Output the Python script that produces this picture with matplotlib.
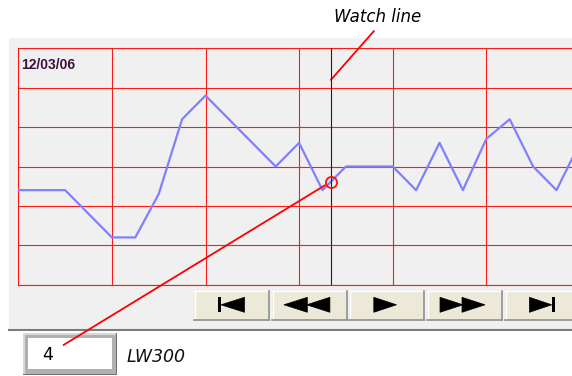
import numpy as np
import matplotlib
matplotlib.use("Agg")
import matplotlib.pyplot as plt
from matplotlib.patches import Rectangle, Polygon

# data
steps = list(range(25))
values = [24, 24, 24, 18, 12, 12, 23, 42, 48, 42, 36, 30, 36, 24, 30, 30, 30, 24, 36, 24, 37, 42, 30, 24, 36]
date_label = "12/03/06"
watch_pos = 13.36
watch_index = "4"
series_name = "LW300"
buttons = ["first", "rew", "play", "ff", "last"]

W, H = 572, 376
fig = plt.figure(figsize=(W / 100, H / 100), dpi=100)
fig.patch.set_facecolor("white")

# overlay in screen pixels for the panel, buttons and text box
ov = fig.add_axes([0, 0, 1, 1], zorder=0)
ov.set_xlim(0, W)
ov.set_ylim(H, 0)
ov.axis("off")

ov.add_patch(Rectangle((9, 38), W - 9, 291, facecolor="#f0f0f0", edgecolor="none"))
ov.plot([9, W], [329.8, 329.8], color="#7c7c7c", lw=1.5)

# chart area, grid every 4 steps / 10 units
ax = fig.add_axes([18.3 / W, (H - 284.7) / H, 561.6 / W, 236.4 / H], zorder=1)
ax.set_facecolor("#f0f0f0")
ax.set_xlim(0, 24)
ax.set_ylim(0, 60)
ax.set_xticks(np.arange(0, 25, 4))
ax.set_yticks(np.arange(0, 61, 10))
ax.tick_params(length=0, labelbottom=False, labelleft=False)
ax.grid(True, color="#ff1a1a", lw=0.8)
for s in ax.spines.values():
    s.set_color("#ff1a1a")
    s.set_linewidth(0.8)

ax.plot(steps, values, color="#8080ff", lw=1.6, zorder=3)
ax.axvline(watch_pos, color="#202020", lw=0.8, zorder=4)

watch_val = np.interp(watch_pos, steps, values)
ax.plot([watch_pos], [watch_val], marker="o", ms=8, mfc="none", mec="#ff1010", mew=1.3, zorder=5)

ax.text(0.005, 0.96, date_label, transform=ax.transAxes, fontsize=10, fontweight="bold",
        family="Liberation Sans", color="#3c1040", va="top", ha="left")

# callout lines
ax.annotate("", xy=(watch_pos, 52), xytext=(374, H - 31), textcoords="figure pixels",
            arrowprops=dict(arrowstyle="-", color="#ff0000", lw=1.3, shrinkA=0, shrinkB=0),
            annotation_clip=False)
ax.annotate("", xy=(watch_pos, watch_val), xytext=(63.5, H - 345), textcoords="figure pixels",
            arrowprops=dict(arrowstyle="-", color="#ff0000", lw=1.3, shrinkA=0, shrinkB=5),
            annotation_clip=False)
ov.text(334, 17, "Watch line", fontsize=12, style="italic", color="#000000", va="center", ha="left")

# media buttons
left_edges = [194, 272, 349, 427.3, 505.3]
btn_w = 75
top, bot = 290.7, 320
cy, hh = 304.8, 7.5

def tri(x_tip, x_base):
    ov.add_patch(Polygon([[x_tip, cy], [x_base, cy - hh], [x_base, cy + hh]], closed=True,
                         facecolor="black", edgecolor="black", lw=0.5))

def bar(x0, x1):
    ov.add_patch(Rectangle((x0, cy - hh), x1 - x0, 2 * hh, facecolor="black", edgecolor="none"))

for kind, x0 in zip(buttons, left_edges):
    x1 = x0 + btn_w
    ov.add_patch(Rectangle((x0, top), btn_w, bot - top, facecolor="#ece9d8", edgecolor="none"))
    ov.plot([x0, x1], [top + 0.5, top + 0.5], color="white", lw=1)
    ov.plot([x0 + 0.5, x0 + 0.5], [top, bot], color="white", lw=1)
    ov.plot([x0, x1], [bot - 0.5, bot - 0.5], color="#8f8f8f", lw=1.2)
    ov.plot([x1 - 0.5, x1 - 0.5], [top, bot], color="#8f8f8f", lw=1.2)
    cx = x0 + btn_w / 2
    if kind == "first":
        bar(cx - 14, cx - 10.6)
        tri(cx - 10.6, cx + 13)
    elif kind == "rew":
        tri(cx - 25.6, cx - 2.2)
        tri(cx - 2.9, cx + 20.4)
    elif kind == "play":
        tri(cx + 10, cx - 12.7)
    elif kind == "ff":
        tri(cx - 1.8, cx - 24.8)
        tri(cx + 20.2, cx - 2.8)
    else:
        tri(cx + 9, cx - 13.4)
        bar(cx + 9, cx + 12.3)

# index text box (bevelled)
ov.add_patch(Rectangle((23.3, 333.3), 94, 42, facecolor="#707070", edgecolor="none"))
ov.add_patch(Rectangle((23.3, 333.3), 92.5, 40.5, facecolor="#d8d8d8", edgecolor="none"))
ov.add_patch(Rectangle((24.8, 334.8), 91, 39, facecolor="#b0b0b0", edgecolor="none"))
ov.add_patch(Rectangle((28.3, 338.3), 83.4, 30.7, facecolor="white", edgecolor="none"))
ov.text(42.5, 355.5, watch_index, fontsize=12.5, color="black", va="center", ha="left")
ov.text(127, 357, series_name, fontsize=12.5, style="italic", color="#111111", va="center", ha="left")

fig.savefig("out.png", dpi=100, facecolor=fig.get_facecolor())
